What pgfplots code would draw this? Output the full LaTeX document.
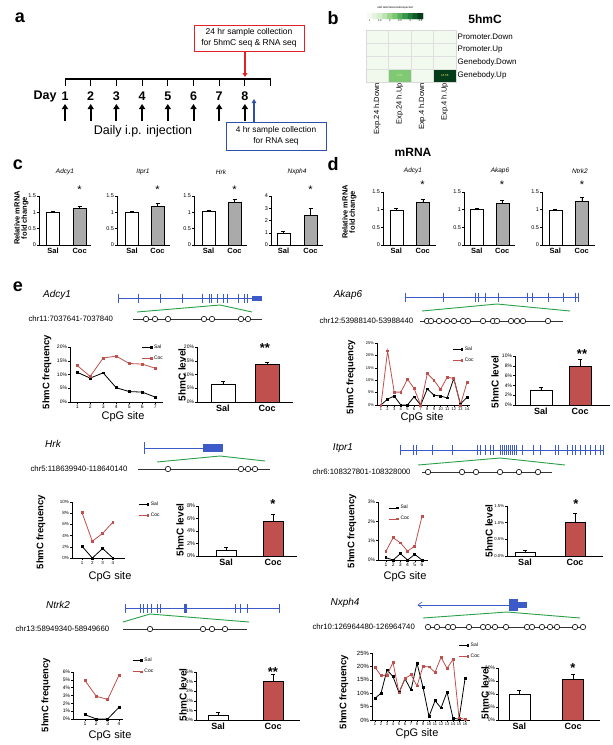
\documentclass[border=0pt]{standalone}
\usepackage{fontspec}
\setmainfont{Liberation Sans}
\usepackage{pgfplots}
\pgfplotsset{compat=1.18}
\usetikzlibrary{arrows.meta}

\newcommand{\fs}[1]{\fontsize{#1}{#1}\selectfont}
\definecolor{cocred}{RGB}{192,80,77}
\definecolor{genblue}{RGB}{60,90,200}
\definecolor{genegreen}{RGB}{40,160,70}
\definecolor{bargray}{RGB}{170,170,170}
\definecolor{boxred}{RGB}{225,35,40}
\definecolor{boxblue}{RGB}{45,80,170}

\pgfplotsset{
  colormap={hm}{rgb255=(245,250,242) rgb255=(205,235,195) rgb255=(120,198,110) rgb255=(40,140,65) rgb255=(5,60,25)},
  bx/.style={scale only axis, anchor=south west, axis lines*=left, clip=false,
    tick align=outside, major tick length=1.8pt,
    every tick/.style={black, line width=0.4pt},
    axis line style={black, line width=0.5pt},
    /pgf/number format/assume math mode=true,
    tick label style={font=\fs{5}, inner sep=1pt}, ymin=0},
  pct/.style={yticklabel={\pgfmathprintnumber{\tick}\%}},
  lc/.style={bx, pct,
    legend style={anchor=north west, draw=none, fill=none, font=\fs{5},
      inner sep=0pt, row sep=2pt, cells={anchor=west}},
    legend image code/.code={\draw[##1, mark repeat=2, mark phase=2] plot coordinates {(0pt,0pt) (9pt,0pt)};}},
  eb/.style={bx, pct, ybar, xtick={1,2}, xticklabels={Sal,Coc},
    xticklabel style={font=\bfseries\fs{9}}, major x tick style={draw=none}},
  cb/.style={bx, ybar, xtick={1,2}, xticklabels={Sal,Coc},
    xticklabel style={font=\bfseries\fs{7.5}}, major x tick style={draw=none},
    yticklabel style={font=\fs{5.5}}, ymax=1.5, ytick={0,0.5,1,1.5}, bar width=13pt},
  sal/.style={black, line width=0.8pt, mark=square*, mark size=0.9pt},
  coc/.style={cocred, line width=0.8pt, mark=square*, mark size=0.9pt},
  errs/.style={error bars/.cd, y dir=plus, y explicit,
    error bar style={black, line width=0.5pt},
    error mark options={black, line width=0.5pt, mark size=2pt, rotate=90}},
  salbar/.style={fill=white, draw=black, line width=0.5pt, bar shift=0pt, errs},
  cocbar/.style={fill=cocred, draw=black, line width=0.5pt, bar shift=0pt, errs},
  graybar/.style={fill=bargray, draw=black, line width=0.5pt, bar shift=0pt, errs},
}

\begin{document}
\begin{tikzpicture}
\useasboundingbox (0,0) rectangle (613pt,-745pt);

\begin{scope}[x=1pt, y=-1pt]
% ---------- panel a ----------
\node[font=\bfseries\fs{18}] at (20,18) {a};
\draw[boxred, line width=1pt] (194,25) rectangle (304,51);
\node[font=\fontsize{8.5}{10.5}\selectfont, align=center] at (249,38) {24 hr sample collection\\for 5hmC seq \& RNA seq};
\draw[boxred, line width=1.6pt, -{Triangle[length=4pt, width=5pt]}] (245,51) -- (245,77);
\draw[line width=1.2pt] (65,79) -- (271,79);
\foreach \k in {0,...,8} \draw[line width=1pt] ({65+25.7*\k},79) -- ({65+25.7*\k},86);
\node[font=\bfseries\fs{12.5}, anchor=east] at (60,96) {Day};
\foreach \k in {1,...,8} {
  \node[font=\bfseries\fs{12.5}] at ({65+25.7*(\k-1)},96) {\k};
  \draw[line width=2pt, -{Triangle[length=5pt, width=6pt]}] ({65+25.7*(\k-1)},121) -- ({65+25.7*(\k-1)},104);
}
\node[font=\fs{12.5}] at (143,131) {Daily i.p. injection};
\draw[boxblue, line width=0.9pt] (226,122) rectangle (326,150);
\node[font=\fontsize{8.3}{10.3}\selectfont, align=center] at (276,136) {4 hr sample collection\\for RNA seq};
\draw[boxblue, line width=1.3pt, -{Triangle[length=4pt, width=4.5pt]}] (254,122) -- (254,99);

% ---------- panel b texts ----------
\node[font=\bfseries\fs{18}] at (333,18) {b};
\node[font=\fs{2.8}] at (395,8) {odd ratio/observed/expected};
\node[font=\bfseries\fs{12}] at (485,19) {5hmC};
\node[font=\bfseries\fs{12}] at (413,152) {mRNA};

% ---------- panel c / d texts ----------
\node[font=\bfseries\fs{18}] at (18,165) {c};
\node[font=\bfseries\fs{18}] at (333,164) {d};
\node[font=\bfseries\fs{7.5}, rotate=90] at (17,218) {Relative mRNA};
\node[font=\bfseries\fs{7.5}, rotate=90] at (25,218) {fold change};
\node[font=\bfseries\fs{7.5}, rotate=90] at (345,212) {Relative mRNA};
\node[font=\bfseries\fs{7.5}, rotate=90] at (353,212) {fold change};
\foreach \x/\t in {65/Adcy1, 143/Itpr1, 221/Hrk, 297/Nxph4}
  \node[font=\itshape\fs{6.5}] at (\x,172) {\t};
\foreach \x/\t in {413/Adcy1, 500/Akap6, 580/Ntrk2}
  \node[font=\itshape\fs{6.5}] at (\x,171) {\t};
\foreach \x in {79.5,157.5,234.5,310.5} \node[font=\fs{11}] at (\x,190) {*};
\foreach \x in {422.5,502,582} \node[font=\fs{11}] at (\x,185) {*};

% ---------- panel e texts ----------
\node[font=\bfseries\fs{18}] at (18,287) {e};
\node[font=\itshape\fs{10}] at (57,295) {Adcy1};
\node[font=\itshape\fs{10}] at (348,295) {Akap6};
\node[font=\itshape\fs{10}] at (53,444) {Hrk};
\node[font=\itshape\fs{10}] at (343,448) {Itpr1};
\node[font=\itshape\fs{10}] at (58,605) {Ntrk2};
\node[font=\itshape\fs{10}] at (345,603) {Nxph4};
\node[font=\fs{7.8}, anchor=west] at (25,319) {chr11:7037641-7037840};
\node[font=\fs{7.8}, anchor=west] at (316,321) {chr12:53988140-53988440};
\node[font=\fs{7.8}, anchor=west] at (27,469) {chr5:118639940-118640140};
\node[font=\fs{7.8}, anchor=west] at (309,472) {chr6:108327801-108328000};
\node[font=\fs{7.8}, anchor=west] at (12,629) {chr13:58949340-58949660};
\node[font=\fs{7.8}, anchor=west] at (309,627) {chr10:126964480-126964740};
\foreach \x/\y in {47/372, 351/377, 41/532, 352/531, 46/695, 344/692}
  \node[font=\bfseries\fs{9.5}, rotate=90] at (\x,\y) {5hmC frequency};
\foreach \x/\y in {182/375, 495/382, 180/530, 489/531, 183/695, 485/693}
  \node[font=\bfseries\fs{10}, rotate=90] at (\x,\y) {5hmC level};
\foreach \x/\y in {123/417, 422/418, 110/577, 405/577, 110/736, 417/734}
  \node[font=\fs{11}] at (\x,\y) {CpG site};
\node[font=\bfseries\fs{13}] at (265,348) {**};
\node[font=\bfseries\fs{13}] at (582,354) {**};
\node[font=\bfseries\fs{13}] at (273,504) {*};
\node[font=\bfseries\fs{13}] at (576,504) {*};
\node[font=\bfseries\fs{13}] at (273,672) {**};
\node[font=\bfseries\fs{13}] at (573,668) {*};

% ---------- gene structures ----------
% Adcy1
\draw[genblue, line width=0.6pt] (118,298) -- (262,298);
\foreach \x in {118,138,160,182,202,209,211,217,223,227,238,244,247}
  \draw[genblue, line width=0.6pt] (\x,293.5) -- (\x,302.5);
\fill[genblue] (252,295.5) rectangle (262,300.5);
\draw[genegreen, line width=0.9pt] (137,312) -- (220,305) -- (252,312);
\draw[black!80, line width=0.8pt] (133,319) -- (262,319);
% Akap6
\draw[genblue, line width=0.6pt] (405,297) -- (578,297);
\foreach \x in {405,443,475,478,485,498,527,532,548,563,575,578}
  \draw[genblue, line width=0.6pt] (\x,292.5) -- (\x,301.5);
\draw[genegreen, line width=0.9pt] (422,311) -- (497,304) -- (570,311);
\draw[black!80, line width=0.8pt] (420,321) -- (563,321);
% Hrk
\draw[genblue, line width=0.6pt] (144,448) -- (204,448);
\draw[genblue, line width=0.6pt] (144,442) -- (144,454);
\fill[genblue] (203,444) rectangle (223,452);
\draw[genegreen, line width=0.9pt] (157,462) -- (220,456) -- (265,461);
\draw[black!80, line width=0.8pt] (138,469) -- (270,469);
% Itpr1
\draw[genblue, line width=0.6pt] (400,450) -- (603,450);
\foreach \x in {400,413,416,432,452,477,480,485,490,493,500,502,504,506,508,510,512,514,516,522,533,540,555,558,567,572,575,580,585,590,595,600,603}
  \draw[genblue, line width=0.6pt] (\x,445) -- (\x,455);
\draw[genegreen, line width=0.9pt] (418,465) -- (500,458) -- (565,465);
\draw[black!80, line width=0.8pt] (422,472) -- (552,472);
% Ntrk2
\draw[genblue, line width=0.6pt] (125,608) -- (279,608);
\foreach \x in {125,140,143,147,151,157,160,235,240,247,279}
  \draw[genblue, line width=0.6pt] (\x,603.5) -- (\x,612.5);
\fill[genblue] (184,603.5) rectangle (187,612.5);
\draw[genegreen, line width=0.9pt] (123,622) -- (150,614) -- (249,622);
\draw[black!80, line width=0.8pt] (123,629) -- (247,629);
% Nxph4
\draw[genblue, line width=0.6pt] (418,605) -- (509,605);
\draw[genblue, line width=0.6pt] (422,602) -- (418,605) -- (422,608);
\fill[genblue] (509,599) rectangle (518,611);
\fill[genblue] (518,602) rectangle (527,608);
\draw[genegreen, line width=0.9pt] (423,618) -- (507,612) -- (580,618);
\draw[black!80, line width=0.8pt] (427,627) -- (585,627);
\end{scope}

% ---------- heatmap (b) ----------
\begin{axis}[scale only axis, anchor=south west, at={(366pt,-82pt)}, width=90pt, height=52pt,
  xmin=-0.5, xmax=3.5, ymin=-0.5, ymax=3.5, y dir=reverse, axis on top,
  xtick={0,1,2,3}, xticklabels={Exp.24 h.Down,Exp.24 h.Up,Exp.4 h.Down,Exp.4 h.Up},
  ytick={0,1,2,3}, yticklabels={Promoter.Down,Promoter.Up,Genebody.Down,Genebody.Up},
  yticklabel pos=right,
  xticklabel style={rotate=90, anchor=east, font=\fs{7.5}, inner sep=1pt},
  yticklabel style={anchor=west, font=\fs{8}, inner sep=1.5pt},
  major tick length=0pt, minor tick length=0pt,
  minor xtick={-0.5,0.5,1.5,2.5,3.5}, minor ytick={-0.5,0.5,1.5,2.5,3.5},
  grid=minor, minor grid style={gray!25, line width=0.4pt},
  axis line style={gray!30},
  colormap name=hm, point meta min=1, point meta max=3.5]
\addplot[matrix plot*, mesh/cols=4, point meta=explicit] coordinates {
  (0,0)[1.04] (1,0)[1.05] (2,0)[1.04] (3,0)[1.05]
  (0,1)[1.05] (1,1)[1.04] (2,1)[1.05] (3,1)[1.04]
  (0,2)[1.04] (1,2)[1.05] (2,2)[1.04] (3,2)[1.05]
  (0,3)[1.06] (1,3)[2.2] (2,3)[1.05] (3,3)[3.5]
};
\node[font=\fs{3}, text={rgb,255:red,235;green,235;blue,110}] at (axis cs:1,3) {9.92};
\node[font=\fs{3}, text={rgb,255:red,235;green,235;blue,110}] at (axis cs:3,3) {14.56};
\end{axis}

% colour key
\begin{axis}[scale only axis, anchor=south west, at={(367pt,-19pt)}, width=56pt, height=6pt,
  xmin=0.875, xmax=3.625, ymin=-0.5, ymax=1.5, axis line style={draw=none},
  major tick length=0pt, ytick=\empty, xtick={1,1.5,...,3.5},
  xticklabel style={font=\fs{2.8}, inner sep=0.5pt},
  /pgf/number format/assume math mode=true,
  colormap name=hm, point meta min=1, point meta max=3.5]
\addplot[matrix plot*, mesh/cols=11, point meta=explicit] coordinates {
  (1,0)[1] (1.25,0)[1.25] (1.5,0)[1.5] (1.75,0)[1.75] (2,0)[2] (2.25,0)[2.25]
  (2.5,0)[2.5] (2.75,0)[2.75] (3,0)[3] (3.25,0)[3.25] (3.5,0)[3.5]
  (1,1)[1] (1.25,1)[1.25] (1.5,1)[1.5] (1.75,1)[1.75] (2,1)[2] (2.25,1)[2.25]
  (2.5,1)[2.5] (2.75,1)[2.75] (3,1)[3] (3.25,1)[3.25] (3.5,1)[3.5]
};
\end{axis}

% ---------- panel c ----------
\begin{axis}[cb, at={(39pt,-245pt)}, width=52pt, height=49pt, xmin=0.47, xmax=2.43]
\addplot[salbar] coordinates {(1,1.0) +- (0,0.02)};
\addplot[graybar] coordinates {(2,1.13) +- (0,0.06)};
\end{axis}
\begin{axis}[cb, at={(117pt,-245pt)}, width=53pt, height=49pt, xmin=0.41, xmax=2.49]
\addplot[salbar] coordinates {(1,1.0) +- (0,0.03)};
\addplot[graybar] coordinates {(2,1.2) +- (0,0.08)};
\end{axis}
\begin{axis}[cb, at={(194pt,-245pt)}, width=53pt, height=49pt, xmin=0.44, xmax=2.48]
\addplot[salbar] coordinates {(1,1.02) +- (0,0.05)};
\addplot[graybar] coordinates {(2,1.3) +- (0,0.1)};
\end{axis}
\begin{axis}[cb, at={(271pt,-245pt)}, width=52pt, height=49pt, xmin=0.54, xmax=2.46, ymax=4, ytick={0,1,2,3,4}]
\addplot[salbar] coordinates {(1,1.0) +- (0,0.1)};
\addplot[graybar] coordinates {(2,2.4) +- (0,0.6)};
\end{axis}

% ---------- panel d ----------
\begin{axis}[cb, at={(383pt,-245pt)}, width=53pt, height=53pt, xmin=0.5, xmax=2.5]
\addplot[salbar] coordinates {(1,0.98) +- (0,0.05)};
\addplot[graybar] coordinates {(2,1.2) +- (0,0.1)};
\end{axis}
\begin{axis}[cb, at={(464pt,-245pt)}, width=51pt, height=53pt, xmin=0.5, xmax=2.5]
\addplot[salbar] coordinates {(1,1.0) +- (0,0.03)};
\addplot[graybar] coordinates {(2,1.19) +- (0,0.07)};
\end{axis}
\begin{axis}[cb, at={(542pt,-245pt)}, width=53pt, height=53pt, xmin=0.5, xmax=2.5]
\addplot[salbar] coordinates {(1,0.98) +- (0,0.02)};
\addplot[graybar] coordinates {(2,1.25) +- (0,0.1)};
\end{axis}

% ---------- panel e : line charts ----------
\begin{axis}[lc, at={(70pt,-402pt)}, width=93pt, height=55pt, xmin=0.45, xmax=7.6,
  xtick={1,...,7}, ymax=20, ytick={0,5,...,20}, legend style={at={(0.77,1.08)}}]
\addplot[sal] coordinates {(1,10.8)(2,8.7)(3,10.6)(4,5.2)(5,3.8)(6,3.6)(7,1.8)};
\addplot[coc] coordinates {(1,13.3)(2,9.3)(3,16.0)(4,16.7)(5,14.0)(6,13.8)(7,12.3)};
\legend{Sal,Coc}
\end{axis}

\begin{axis}[lc, at={(377pt,-405pt)}, width=93pt, height=62pt, xmin=0.4, xmax=14.45,
  xtick={1,...,14}, ymax=25, ytick={0,5,...,25}, tick label style={font=\fs{4}},
  legend style={at={(0.81,0.98)}}]
\addplot[sal] coordinates {(1,0)(2,2.4)(3,3.6)(4,0)(5,0)(6,3.3)(7,0)(8,6.5)(9,4.0)(10,3.6)(11,2.9)(12,10.7)(13,0.4)(14,3.1)};
\addplot[coc] coordinates {(1,0)(2,21.8)(3,5.2)(4,5.2)(5,10.4)(6,6.7)(7,0)(8,12.7)(9,10.0)(10,6.3)(11,11.2)(12,10.7)(13,0)(14,9.2)};
\legend{Sal,Coc}
\end{axis}

\begin{axis}[lc, at={(72pt,-558pt)}, width=53pt, height=56pt, xmin=0.03, xmax=5.17,
  xtick={1,...,4}, ymax=10, ytick={0,2,...,10}, tick label style={font=\fs{4.5}},
  legend style={at={(1.25,1.04)}}]
\addplot[sal] coordinates {(1,2.1)(2,0)(3,1.7)(4,0)};
\addplot[coc] coordinates {(1,8.1)(2,3.0)(3,4.4)(4,6.4)};
\legend{Sal,Coc}
\end{axis}

\begin{axis}[lc, at={(378pt,-560pt)}, width=50pt, height=58pt, xmin=-0.1, xmax=6.83,
  xtick={1,...,6}, ymax=3, ytick={0,1,2,3}, legend style={at={(0.2,0.98)}}]
\addplot[sal] coordinates {(1,0.12)(2,0)(3,0.33)(4,0)(5,0.29)(6,0)};
\addplot[coc] coordinates {(1,0.46)(2,1.15)(3,0.89)(4,0.46)(5,0.72)(6,2.26)};
\legend{Sal,Coc}
\end{axis}

\begin{axis}[lc, at={(73pt,-719pt)}, width=50pt, height=47pt, xmin=-0.06, xmax=4.35,
  xtick={1,...,4}, ymax=6, ytick={0,1,...,6}, legend style={at={(1.18,1.34)}}]
\addplot[sal] coordinates {(1,0.55)(2,0)(3,0)(4,1.5)};
\addplot[coc] coordinates {(1,4.9)(2,2.9)(3,2.5)(4,5.6)};
\legend{Sal,Coc}
\end{axis}

\begin{axis}[lc, at={(372pt,-720pt)}, width=98pt, height=67pt, xmin=0.5, xmax=16.83,
  xtick={1,...,16}, ymax=25, ytick={0,5,...,25},
  xticklabel style={font=\fs{4}}, yticklabel style={font=\fs{6}},
  legend style={at={(0.88,1.18)}}]
\addplot[sal] coordinates {(1,8.1)(2,10.0)(3,18.7)(4,16.2)(5,10.2)(6,15.4)(7,11.2)(8,21.2)(9,12.2)(10,1.3)(11,7.2)(12,4.5)(13,10.4)(14,0.7)(15,0.3)(16,15.4)};
\addplot[coc] coordinates {(1,19.6)(2,16.6)(3,16.7)(4,21.5)(5,10.1)(6,15.5)(7,16.9)(8,12.7)(9,20.0)(10,19.8)(11,17.8)(12,23.4)(13,19.3)(14,22.6)(15,0.8)(16,0.2)};
\legend{Sal,Coc}
\end{axis}

% ---------- panel e : bar charts ----------
\begin{axis}[eb, at={(197pt,-402pt)}, width=96pt, height=55pt, xmin=0.41, xmax=2.59,
  ymax=20, ytick={0,5,...,20}, bar width=24pt]
\addplot[salbar] coordinates {(1,6.3) +- (0,1.3)};
\addplot[cocbar] coordinates {(2,13.6) +- (0,0.8)};
\end{axis}
\begin{axis}[eb, at={(515pt,-405pt)}, width=95pt, height=49pt, xmin=0.34, xmax=2.76,
  ymax=10, ytick={0,2,...,10}, bar width=22pt]
\addplot[salbar] coordinates {(1,3.0) +- (0,0.7)};
\addplot[cocbar] coordinates {(2,7.9) +- (0,1.5)};
\end{axis}
\begin{axis}[eb, at={(198pt,-556pt)}, width=99pt, height=50pt, xmin=0.4, xmax=2.51,
  ymax=8, ytick={0,2,...,8}, bar width=20pt, yticklabel style={font=\fs{5.5}}]
\addplot[salbar] coordinates {(1,0.9) +- (0,0.45)};
\addplot[cocbar] coordinates {(2,5.5) +- (0,1.2)};
\end{axis}
\begin{axis}[eb, at={(507pt,-556pt)}, width=96pt, height=50pt, xmin=0.64, xmax=2.56,
  ymax=1.5, ytick={0,0.5,1,1.5}, bar width=20pt, yticklabel style={font=\fs{4.2}},
  yticklabel={\pgfmathprintnumber[fixed, fixed zerofill, precision=1]{\tick}\%}]
\addplot[salbar] coordinates {(1,0.12) +- (0,0.05)};
\addplot[cocbar] coordinates {(2,1.0) +- (0,0.27)};
\end{axis}
\begin{axis}[eb, at={(196pt,-720pt)}, width=104pt, height=48pt, xmin=0.6, xmax=2.49,
  ymax=5, ytick={0,1,...,5}, bar width=20pt, yticklabel style={font=\fs{4.7}}]
\addplot[salbar] coordinates {(1,0.5) +- (0,0.35)};
\addplot[cocbar] coordinates {(2,4.0) +- (0,0.75)};
\end{axis}
\begin{axis}[eb, at={(498pt,-720pt)}, width=102pt, height=52pt, xmin=0.6, xmax=2.5,
  ymax=20, ytick={0,5,...,20}, bar width=21pt]
\addplot[salbar] coordinates {(1,10.0) +- (0,1.5)};
\addplot[cocbar] coordinates {(2,15.8) +- (0,1.7)};
\end{axis}

% ---------- CpG sites (open circles) ----------
\begin{axis}[scale only axis, anchor=south west, at={(0pt,-745pt)}, width=613pt, height=745pt,
  xmin=0, xmax=613, ymin=0, ymax=745, y dir=reverse, hide axis, clip=false]
\addplot[only marks, mark=*, mark size=2.7pt, mark options={fill=white, draw=black, line width=0.6pt}] coordinates {
  (146,319)(155,319)(168,319)(204,319)(212,319)(241,319)(248,319)
  (427,321)(431,321)(439,321)(447,321)(454,321)(463,321)(468,321)(483,321)(493,321)(497,321)(511,321)(517,321)(523,321)(548,321)
  (168,469)(241,469)(248,469)(255,469)
  (428,472)(462,472)(476,472)(500,472)(519,472)(538,472)
  (150,629)(203,629)(212,629)(225,629)
  (428,627)(437,627)(448,627)(453,627)(469,627)(483,627)(488,627)(495,627)(506,627)(527,627)(532,627)(542,627)(550,627)(557,627)(575,627)(583,627)
};
\end{axis}
\end{tikzpicture}
\end{document}
